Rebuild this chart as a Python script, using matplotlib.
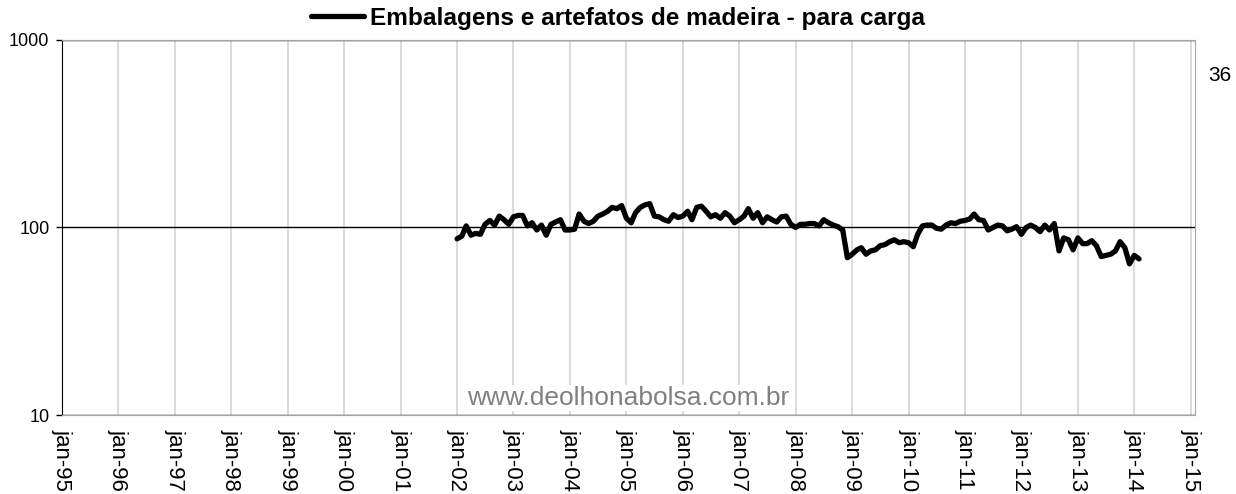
import matplotlib
matplotlib.use("Agg")
import matplotlib.pyplot as plt
import pandas as pd
import datetime as dt

plt.rcParams['font.family'] = ['Liberation Sans', 'DejaVu Sans']

series_name = "Embalagens e artefatos de madeira - para carga"
start_month = "2002-01-01"

# monthly index values, jan-02 .. feb-14
values = [
    87, 90, 102, 91, 93, 92, 104, 109, 103, 115, 110, 104,      # 2002
    114, 116, 116, 102, 106, 97, 103, 91, 104, 107, 110, 97,    # 2003
    97, 98, 118, 108, 105, 108, 115, 118, 122, 128, 126, 131,   # 2004
    112, 106, 120, 128, 132, 134, 115, 114, 110, 108, 117, 113, # 2005
    115, 122, 110, 128, 130, 122, 114, 117, 112, 120, 115, 106, # 2006
    110, 115, 126, 112, 120, 106, 114, 110, 107, 114, 115, 104, # 2007
    100, 104, 104, 105, 105, 102, 110, 106, 103, 101, 97, 69,   # 2008
    72, 76, 78, 72, 75, 76, 80, 81, 84, 86, 83, 84,             # 2009
    83, 79, 92, 102, 103, 103, 99, 98, 103, 106, 105, 108,      # 2010
    109, 111, 118, 110, 109, 97, 100, 103, 102, 96, 98, 101,    # 2011
    92, 100, 103, 100, 95, 103, 97, 105, 75, 88, 86, 76,        # 2012
    88, 82, 82, 85, 80, 70, 71, 72, 75, 84, 78, 64,             # 2013
    71, 68,                                                     # 2014
]

tick_years = list(range(1995, 2016))
tick_labels = ["jan-%02d" % (y % 100) for y in tick_years]
y_ticks = [10, 100, 1000]
y_labels = ["10", "100", "1000"]

dates = pd.date_range(start_month, periods=len(values), freq="MS")

fig = plt.figure(figsize=(12.36, 4.94), dpi=100)
ax = fig.add_axes([62/1236, 1 - 415/494, (1195-62)/1236, (415-40)/494])

line, = ax.plot(dates, values, color='black', lw=3.8, solid_joinstyle='round',
                solid_capstyle='round', label=series_name, zorder=3)

ax.set_yscale('log')
ax.set_ylim(10, 1000)
ax.set_yticks(y_ticks)
ax.set_yticklabels(y_labels, fontsize=13)
ax.yaxis.set_minor_locator(matplotlib.ticker.NullLocator())
ax.tick_params(axis='y', length=4, width=1, pad=5, direction='out')

xticks = [dt.datetime(y, 1, 1) for y in tick_years]
ax.set_xticks(xticks)
ax.set_xticklabels(tick_labels, rotation=-90, fontsize=16, va='top', ha='center')
ax.tick_params(axis='x', length=0, pad=10)
ax.set_xlim(dt.datetime(1995, 1, 1), dt.datetime(2015, 1, 29))

ax.grid(axis='x', color='#d4d4d4', lw=1.2, zorder=0)
ax.grid(axis='y', color='black', lw=1, zorder=1)
ax.set_axisbelow(True)

ax.spines['left'].set_color('black')
for s in ['top', 'right', 'bottom']:
    ax.spines[s].set_color('#a6a6a6')

fig.legend(handles=[line], loc='center', bbox_to_anchor=(618/1236, 1 - 18/494),
           frameon=False, handlelength=2.2, handletextpad=0.25,
           prop={'weight': 'bold', 'size': 17.6})

fig.text(1220/1236, 1 - 75/494, "36", ha='center', va='center', fontsize=15)

ax.text(0.5, 0.045, "www.deolhonabolsa.com.br", transform=ax.transAxes,
        ha='center', va='center', fontsize=19, color='#808080', zorder=4,
        bbox=dict(facecolor='white', edgecolor='none', pad=1))

plt.savefig("out.png", dpi=100)
